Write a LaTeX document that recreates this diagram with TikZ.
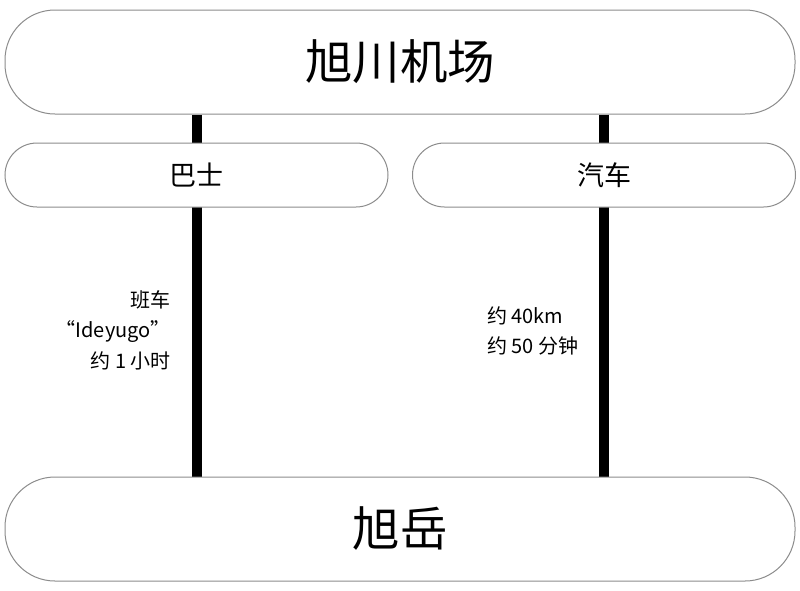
\documentclass[tikz,border=0pt]{standalone}
\usepackage{fontspec}
\setmainfont{Noto Sans CJK SC}
\usetikzlibrary{backgrounds}
\definecolor{boxline}{HTML}{8C8C8C}
\tikzset{
    station/.style={shape=rectangle,draw=boxline,line width=1pt,fill=white,rounded corners=50pt,minimum width=790pt,minimum height=104pt,font=\fontsize{47.5}{50}\selectfont},
    mode/.style={shape=rectangle,draw=boxline,line width=1pt,fill=white,rounded corners=32pt,minimum width=383pt,minimum height=64pt,font=\fontsize{27}{30}\selectfont},
    route/.style={line width=10pt,black},
    info/.style={font=\fontsize{20}{30.5}\selectfont,inner sep=0pt},
  }
\begin{document}
\begin{tikzpicture}[x=1pt,y=-1pt]
		    \useasboundingbox (0,0) rectangle (800,590);
		    % create the nodes
			    \node[station] (airport) at (400,62) {旭川机场};
			    \node[mode] (bus) at (196.5,175) {巴士};
			    \node[mode] (car) at (604,175) {汽车};
			    \node[station] (asahidake) at (400,529) {旭岳};
			    \node[info,anchor=east,align=right] (businfo) at (171,330) {班车\\“Ideyugo”\\约 1 小时};
			    \node[info,anchor=west,align=left] (carinfo) at (487,331) {约 40km\\约 50 分钟};
		    % routes behind the boxes
			    \begin{scope}[on background layer]
			    \draw[route] (airport.south -| bus) -- (asahidake.north -| bus);
			    \draw[route] (airport.south -| car) -- (asahidake.north -| car);
			    \end{scope}
			\end{tikzpicture}
\end{document}
